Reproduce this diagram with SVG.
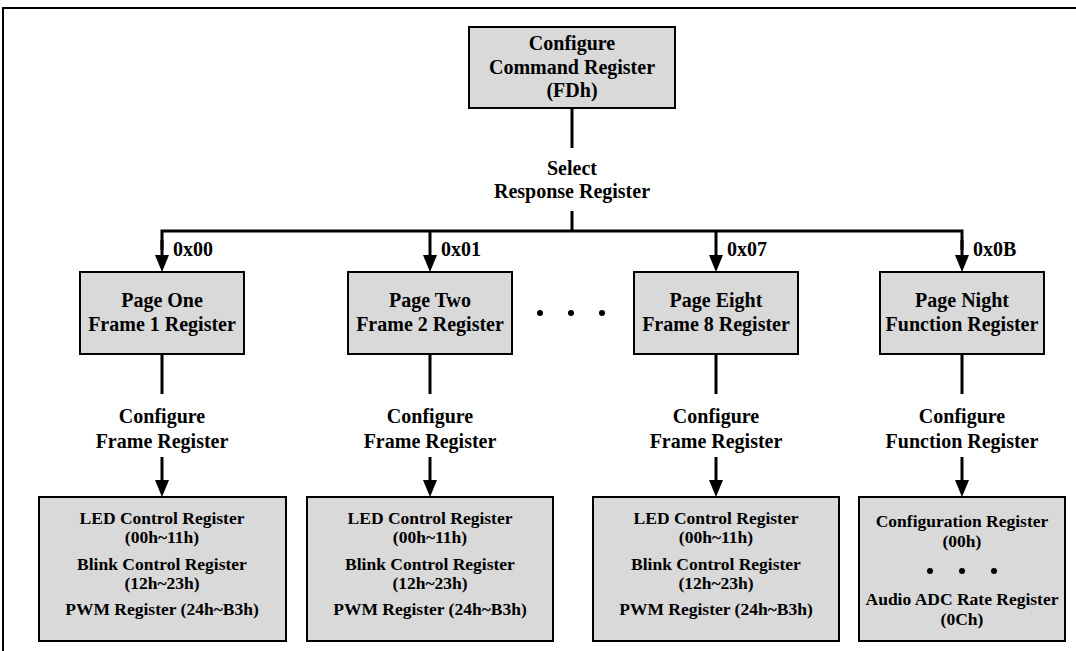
<svg xmlns="http://www.w3.org/2000/svg" width="1076" height="651" viewBox="0 0 1076 651">
<defs>
<marker id="arr" markerUnits="userSpaceOnUse" markerWidth="17" markerHeight="14" refX="7" refY="7" orient="auto" viewBox="0 0 17 14">
<path d="M0,0 L17,7 L0,14 Z" fill="#000"/>
</marker>
</defs>
<style>
.box{fill:#d9d9d9;stroke:#000;stroke-width:2}
.t{font-family:"Liberation Serif","Times New Roman",serif;font-weight:bold;font-size:20px;text-anchor:middle;fill:#000}
.s{font-family:"Liberation Serif","Times New Roman",serif;font-weight:bold;font-size:17.5px;text-anchor:middle;fill:#000}
.l{font-family:"Liberation Serif","Times New Roman",serif;font-weight:bold;font-size:20px;fill:#000}
.c{fill:none;stroke:#000;stroke-width:3}
.a{fill:none;stroke:#000;stroke-width:3;marker-end:url(#arr)}
</style>
<rect x="3" y="8" width="1090" height="670" fill="#fff" stroke="#000" stroke-width="2"/>

<g id="connectors">
<line class="c" x1="572" y1="108" x2="572" y2="148"/>
<line class="c" x1="572" y1="211" x2="572" y2="231"/>
<polyline class="c" points="162,250 162,231 962,231 962,250"/>
<line class="a" x1="162" y1="240" x2="162" y2="262"/>
<line class="a" x1="430" y1="231" x2="430" y2="262"/>
<line class="a" x1="716" y1="231" x2="716" y2="262"/>
<line class="a" x1="962" y1="240" x2="962" y2="262"/>
<line class="c" x1="162" y1="354" x2="162" y2="394"/>
<line class="c" x1="430" y1="354" x2="430" y2="394"/>
<line class="c" x1="716" y1="354" x2="716" y2="394"/>
<line class="c" x1="962" y1="354" x2="962" y2="394"/>
<line class="a" x1="162" y1="457" x2="162" y2="487"/>
<line class="a" x1="430" y1="457" x2="430" y2="487"/>
<line class="a" x1="716" y1="457" x2="716" y2="487"/>
<line class="a" x1="962" y1="457" x2="962" y2="487"/>
<text class="t" x="572" y="175">Select</text>
<text class="t" x="572" y="198">Response Register</text>
<text class="l" x="173" y="256">0x00</text>
<text class="l" x="441" y="256">0x01</text>
<text class="l" x="727" y="256">0x07</text>
<text class="l" x="973" y="256">0x0B</text>
<text class="t" x="162" y="423">Configure</text>
<text class="t" x="162" y="448">Frame Register</text>
<text class="t" x="430" y="423">Configure</text>
<text class="t" x="430" y="448">Frame Register</text>
<text class="t" x="716" y="423">Configure</text>
<text class="t" x="716" y="448">Frame Register</text>
<text class="t" x="962" y="423">Configure</text>
<text class="t" x="962" y="448">Function Register</text>
</g>

<g id="cmd">
<rect class="box" x="469" y="27" width="206" height="81"/>
<text class="t" x="572" y="50">Configure</text>
<text class="t" x="572" y="74">Command Register</text>
<text class="t" x="572" y="97">(FDh)</text>
</g>

<g id="page1">
<rect class="box" x="80" y="272" width="164" height="82"/>
<text class="t" x="162" y="307">Page One</text>
<text class="t" x="162" y="331">Frame 1 Register</text>
</g>
<g id="page2">
<rect class="box" x="348" y="272" width="164" height="82"/>
<text class="t" x="430" y="307">Page Two</text>
<text class="t" x="430" y="331">Frame 2 Register</text>
</g>
<g id="ellipsis">
<circle cx="540" cy="313" r="3"/>
<circle cx="571" cy="313" r="3"/>
<circle cx="602" cy="313" r="3"/>
</g>
<g id="page8">
<rect class="box" x="634" y="272" width="164" height="82"/>
<text class="t" x="716" y="307">Page Eight</text>
<text class="t" x="716" y="331">Frame 8 Register</text>
</g>
<g id="page9">
<rect class="box" x="880" y="272" width="164" height="82"/>
<text class="t" x="962" y="307">Page Night</text>
<text class="t" x="962" y="331">Function Register</text>
</g>

<g id="regs1">
<rect class="box" x="39" y="497" width="247" height="144"/>
<text class="s" x="162" y="524">LED Control Register</text>
<text class="s" x="162" y="543">(00h~11h)</text>
<text class="s" x="162" y="570">Blink Control Register</text>
<text class="s" x="162" y="589">(12h~23h)</text>
<text class="s" x="162" y="615">PWM Register (24h~B3h)</text>
</g>
<g id="regs2">
<rect class="box" x="307" y="497" width="246" height="144"/>
<text class="s" x="430" y="524">LED Control Register</text>
<text class="s" x="430" y="543">(00h~11h)</text>
<text class="s" x="430" y="570">Blink Control Register</text>
<text class="s" x="430" y="589">(12h~23h)</text>
<text class="s" x="430" y="615">PWM Register (24h~B3h)</text>
</g>
<g id="regs8">
<rect class="box" x="593" y="497" width="246" height="144"/>
<text class="s" x="716" y="524">LED Control Register</text>
<text class="s" x="716" y="543">(00h~11h)</text>
<text class="s" x="716" y="570">Blink Control Register</text>
<text class="s" x="716" y="589">(12h~23h)</text>
<text class="s" x="716" y="615">PWM Register (24h~B3h)</text>
</g>
<g id="regs9">
<rect class="box" x="859" y="497" width="206" height="144"/>
<text class="s" x="962" y="527">Configuration Register</text>
<text class="s" x="962" y="547">(00h)</text>
<circle cx="930" cy="571" r="3"/>
<circle cx="962" cy="571" r="3"/>
<circle cx="994" cy="571" r="3"/>
<text class="s" x="962" y="605">Audio ADC Rate Register</text>
<text class="s" x="962" y="625">(0Ch)</text>
</g>
</svg>
